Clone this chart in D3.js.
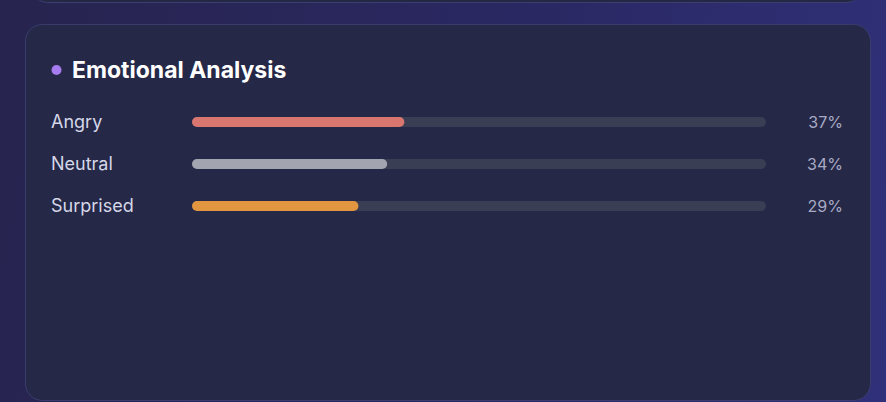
<!DOCTYPE html>
<html>
<head>
<meta charset="utf-8">
<script src="https://cdn.jsdelivr.net/npm/d3@7"></script>
<style>
  html, body { margin: 0; padding: 0; }
  body {
    width: 886px; height: 402px; overflow: hidden;
    background: linear-gradient(100deg, #27244f 0%, #2a2862 55%, #30307a 100%);
    font-family: Inter, "Noto Sans", sans-serif;
  }
</style>
</head>
<body>
<div id="chart"></div>
<script>
// emotion share, in percent
emotions = ["Angry", "Neutral", "Surprised"];
percents = [37, 34, 29];
barColors = ["#d9766f", "#a2a4b0", "#e1963f"];

var width = 886, height = 402;

var svg = d3.select("#chart")
    .append("svg")
    .attr("width", width)
    .attr("height", height);

// the card above, just its bottom edge shows
svg.append("rect")
    .attr("x", 33).attr("y", -60)
    .attr("width", 828).attr("height", 62.5)
    .attr("rx", 14)
    .style("fill", "#252844")
    .style("stroke", "#3b3e6e")
    .style("stroke-width", 1);

// main card
svg.append("rect")
    .attr("x", 25.5).attr("y", 24.5)
    .attr("width", 845).attr("height", 376)
    .attr("rx", 17)
    .style("fill", "#252847")
    .style("stroke", "#3a3d6c")
    .style("stroke-width", 1);

// title
svg.append("circle")
    .attr("cx", 56.5).attr("cy", 70)
    .attr("r", 5)
    .style("fill", "#a77cf0");

svg.append("text")
    .attr("x", 72).attr("y", 78)
    .style("font-size", "23px")
    .style("font-weight", 700)
    .style("fill", "#ffffff")
    .text("Emotional Analysis");

var x = d3.scaleLinear()
    .domain([0, 100])
    .range([192, 766]);

var y = d3.scalePoint()
    .domain(emotions)
    .range([122, 206]);

var barH = 10;

var rows = svg.selectAll("g.row")
    .data(emotions)
    .enter()
    .append("g")
    .attr("class", "row");

rows.append("text")
    .attr("x", 51)
    .attr("y", function (d) { return y(d); })
    .attr("dy", "0.35em")
    .style("font-size", "18px")
    .style("fill", "#d5d7e8")
    .text(function (d) { return d; });

// background track
rows.append("rect")
    .attr("x", x(0))
    .attr("y", function (d) { return y(d) - barH / 2; })
    .attr("width", x(100) - x(0))
    .attr("height", barH)
    .attr("rx", barH / 2)
    .style("fill", "#393e54");

rows.append("rect")
    .attr("x", x(0))
    .attr("y", function (d) { return y(d) - barH / 2; })
    .attr("width", function (d, i) { return x(percents[i]) - x(0); })
    .attr("height", barH)
    .attr("rx", barH / 2)
    .style("fill", function (d, i) { return barColors[i]; });

rows.append("text")
    .attr("x", 843)
    .attr("y", function (d) { return y(d); })
    .attr("dy", "0.35em")
    .attr("text-anchor", "end")
    .style("font-size", "16px")
    .style("fill", "#a8aac4")
    .text(function (d, i) { return percents[i] + "%"; });
</script>
</body>
</html>
